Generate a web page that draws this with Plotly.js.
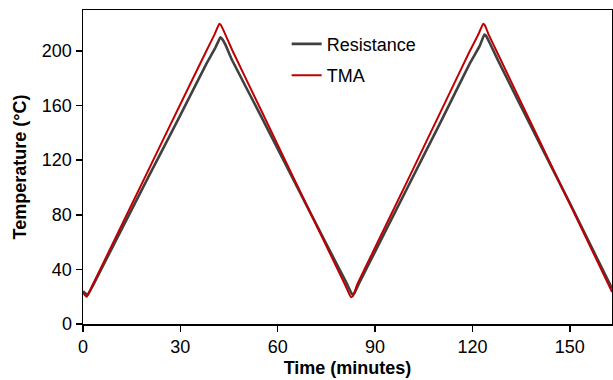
<!DOCTYPE html>
<html>
<head>
<meta charset="utf-8">
<script src="https://cdn.plot.ly/plotly-3.0.1.min.js"></script>
<style>html,body{margin:0;padding:0;background:#fff;}#chart{width:613px;height:380px;}</style>
</head>
<body>
<div id="chart"></div>
<script>
// Time (minutes) and temperature (°C) readings
const tmaTime = [0, 0.6, 1.2, 3, 10, 20, 30, 38, 40.5, 41.5, 42, 42.5, 43.5, 46, 55, 65, 75, 81, 82.1, 82.6, 83.2, 84.5, 90, 100, 110, 119, 121.8, 122.8, 123.3, 123.8, 125, 128, 140, 150, 163];
const tmaTemp = [23, 21, 20, 28.8, 63, 112, 161, 200, 212, 217.5, 220, 219, 214, 200.5, 156, 106.5, 57, 27.5, 21.5, 19.5, 20.5, 29, 56, 105, 154.5, 199, 212, 217.5, 220, 219, 212, 197, 137.5, 88, 23.5];

const resTime = [0, 0.7, 1.5, 3, 10, 20, 30, 38, 40.8, 41.8, 42.3, 42.8, 43.8, 46, 55, 65, 75, 81, 82.5, 83, 83.6, 85, 90, 100, 110, 119, 122.2, 123.2, 123.7, 124.2, 125.3, 128, 140, 150, 163];
const resTemp = [24, 22.5, 21.5, 28, 60.5, 107, 153, 190.5, 202.5, 207.5, 210, 209, 205, 193, 151.5, 105, 58.5, 31, 23.5, 21.5, 22.5, 29.5, 53, 100, 147, 190, 203.5, 209.5, 212, 211, 206, 192.5, 135.5, 88.5, 26];

const seriesNames = ["Resistance", "TMA"];
const xTicks = [0, 30, 60, 90, 120, 150];
const yTicks = [0, 40, 80, 120, 160, 200];

const traces = [
  {x: resTime, y: resTemp, name: seriesNames[0], mode: "lines", legendgroup: "a",
   line: {color: "#404040", width: 2.6, shape: "spline", smoothing: 0.3}},
  {x: tmaTime, y: tmaTemp, name: seriesNames[1], mode: "lines", legendgroup: "b",
   line: {color: "#C00000", width: 2, shape: "spline", smoothing: 0.3}}
];

const layout = {
  width: 613, height: 380,
  margin: {l: 83, r: 1, t: 10, b: 56},
  paper_bgcolor: "#fff", plot_bgcolor: "#fff",
  font: {family: "Liberation Sans, Arial, sans-serif", size: 18, color: "#000"},
  showlegend: true,
  legend: {x: 0.385, y: 0.95, xanchor: "left", yanchor: "top", bgcolor: "rgba(0,0,0,0)",
           traceorder: "grouped", tracegroupgap: 5, font: {size: 18, color: "#000"}},
  xaxis: {
    range: [0, 163], tickvals: xTicks, ticktext: xTicks.map(String),
    showgrid: false, zeroline: false, showline: true, linecolor: "#000", linewidth: 1.5,
    mirror: true, ticks: "outside", ticklen: 6, tickcolor: "#000", tickwidth: 1.5,
    tickfont: {size: 18},
    title: {text: "<b>Time (minutes)</b>", font: {size: 18}, standoff: 5}
  },
  yaxis: {
    range: [0, 230], tickvals: yTicks, ticktext: yTicks.map(String),
    showgrid: false, zeroline: false, showline: true, linecolor: "#000", linewidth: 1.5,
    mirror: true, ticks: "outside", ticklen: 6, tickcolor: "#000", tickwidth: 1.5,
    tickfont: {size: 18},
    title: {text: "<b>Temperature (°C)</b>", font: {size: 18}, standoff: 10}
  }
};

Plotly.newPlot("chart", traces, layout, {displayModeBar: false, staticPlot: true});
</script>
</body>
</html>
